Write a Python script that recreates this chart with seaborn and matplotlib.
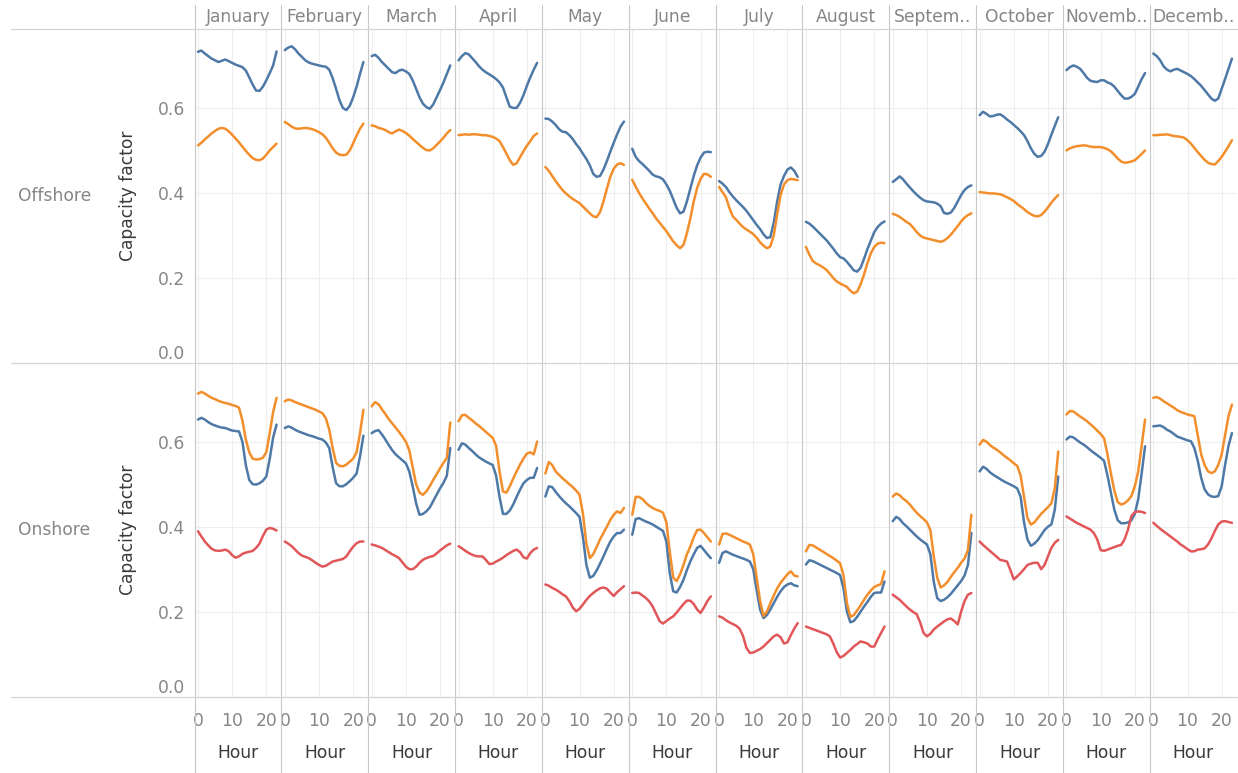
import numpy as np
import pandas as pd
import matplotlib
matplotlib.use("Agg")
import matplotlib.pyplot as plt
import seaborn as sns
from matplotlib.lines import Line2D

sns.set_theme(style="white")
plt.rcParams["font.family"] = ["DejaVu Sans"]

months = ["January", "February", "March", "April", "May", "June", "July",
          "August", "September", "October", "November", "December"]
month_labels = ["January", "February", "March", "April", "May", "June", "July",
                "August", "Septem..", "October", "Novemb..", "Decemb.."]
hours = list(range(24))
locations = ["Offshore", "Onshore"]
series_order = ["Series 1", "Series 2", "Series 3"]
palette = {"Series 1": "#4e79a7", "Series 2": "#f28e2b", "Series 3": "#e15759"}

# capacity factor by month (rows) and hour 0-23 (columns)
offshore_s1 = [
    [.732, .735, .728, .722, .716, .712, .708, .711, .714, .710, .706, .702, .699, .696, .688, .672, .655, .641, .640, .650, .665, .682, .700, .733],
    [.736, .742, .745, .738, .728, .720, .712, .707, .704, .702, .700, .698, .697, .690, .670, .645, .618, .600, .595, .605, .625, .650, .680, .708],
    [.722, .725, .718, .708, .700, .692, .684, .682, .688, .690, .686, .680, .665, .645, .625, .610, .602, .598, .608, .625, .642, .660, .680, .700],
    [.712, .722, .729, .726, .717, .708, .698, .690, .684, .679, .674, .668, .660, .648, .625, .603, .600, .600, .612, .630, .652, .672, .690, .706],
    [.575, .574, .568, .560, .550, .544, .543, .536, .527, .515, .505, .492, .480, .465, .445, .438, .440, .455, .475, .497, .518, .538, .556, .568],
    [.504, .485, .475, .468, .460, .452, .443, .439, .437, .432, .420, .405, .385, .365, .352, .356, .380, .410, .440, .465, .483, .495, .497, .496],
    [.428, .422, .414, .402, .392, .383, .375, .367, .358, .347, .336, .325, .315, .303, .294, .296, .330, .380, .420, .440, .455, .460, .452, .438],
    [.332, .328, .321, .313, .305, .297, .289, .279, .269, .258, .249, .246, .238, .228, .218, .215, .224, .245, .268, .288, .308, .320, .328, .333],
    [.426, .432, .439, .432, .422, .413, .404, .396, .389, .383, .380, .379, .378, .375, .369, .353, .351, .354, .365, .380, .395, .407, .414, .418],
    [.583, .591, .586, .580, .581, .584, .585, .580, .573, .567, .560, .553, .545, .536, .522, .505, .492, .485, .487, .497, .515, .537, .558, .578],
    [.689, .696, .700, .697, .692, .682, .671, .664, .662, .661, .665, .665, .660, .657, .650, .640, .630, .622, .622, .626, .633, .650, .668, .682],
    [.728, .722, .712, .698, .690, .686, .690, .692, .688, .684, .680, .675, .668, .660, .652, .642, .632, .622, .617, .622, .645, .668, .692, .716],
]
offshore_s2 = [
    [.512, .518, .526, .533, .540, .546, .551, .553, .551, .545, .537, .528, .519, .509, .499, .490, .482, .478, .477, .481, .490, .500, .508, .516],
    [.567, .562, .556, .552, .551, .552, .553, .552, .550, .547, .543, .538, .530, .518, .505, .495, .490, .489, .490, .500, .517, .535, .551, .563],
    [.559, .557, .553, .551, .548, .543, .540, .545, .549, .546, .541, .535, .527, .520, .513, .506, .501, .500, .505, .513, .521, .530, .540, .548],
    [.536, .537, .538, .537, .538, .538, .537, .536, .536, .534, .532, .528, .522, .508, .493, .477, .466, .470, .484, .498, .511, .522, .534, .540],
    [.461, .452, .440, .428, .417, .407, .399, .392, .386, .381, .376, .368, .360, .352, .345, .343, .355, .380, .410, .438, .457, .467, .470, .466],
    [.431, .415, .400, .387, .375, .363, .352, .340, .330, .320, .310, .298, .286, .277, .270, .278, .305, .340, .380, .412, .433, .445, .444, .438],
    [.414, .402, .390, .365, .345, .337, .328, .320, .314, .309, .303, .295, .284, .276, .270, .274, .300, .350, .395, .420, .430, .433, .432, .430],
    [.273, .255, .240, .234, .230, .225, .219, .210, .200, .192, .187, .183, .179, .170, .164, .168, .185, .208, .235, .258, .273, .281, .283, .282],
    [.351, .348, .344, .338, .332, .327, .318, .308, .300, .295, .293, .291, .289, .287, .285, .288, .294, .302, .312, .322, .333, .342, .348, .352],
    [.402, .401, .400, .399, .399, .398, .397, .394, .390, .386, .381, .374, .368, .362, .355, .350, .346, .345, .348, .356, .366, .377, .387, .395],
    [.500, .505, .508, .510, .511, .512, .511, .509, .508, .508, .508, .506, .503, .498, .490, .481, .474, .471, .472, .474, .477, .484, .492, .500],
    [.536, .536, .537, .537, .538, .536, .534, .533, .532, .530, .524, .516, .506, .496, .487, .478, .471, .468, .467, .475, .485, .497, .510, .524],
]
onshore_s1 = [
    [.652, .656, .652, .646, .641, .638, .635, .633, .632, .629, .626, .625, .624, .600, .545, .510, .500, .499, .502, .508, .518, .560, .610, .640],
    [.632, .636, .633, .628, .624, .621, .618, .615, .613, .610, .607, .605, .598, .585, .540, .502, .495, .495, .500, .507, .515, .525, .565, .614],
    [.620, .625, .627, .617, .605, .592, .580, .570, .563, .556, .549, .530, .495, .455, .428, .430, .436, .445, .460, .475, .490, .503, .520, .585],
    [.581, .596, .593, .585, .578, .570, .563, .558, .553, .549, .545, .520, .470, .430, .430, .438, .452, .470, .487, .502, .510, .515, .515, .538],
    [.471, .495, .493, .482, .472, .463, .455, .448, .440, .432, .423, .375, .310, .280, .284, .297, .313, .330, .348, .365, .377, .385, .385, .393],
    [.381, .418, .420, .416, .412, .409, .405, .400, .395, .390, .365, .290, .248, .245, .258, .275, .298, .318, .335, .350, .355, .345, .335, .326],
    [.315, .338, .342, .338, .334, .331, .328, .325, .322, .318, .300, .250, .205, .185, .192, .205, .220, .235, .248, .258, .264, .267, .262, .260],
    [.311, .321, .319, .315, .311, .307, .303, .299, .295, .291, .286, .255, .200, .175, .178, .188, .200, .212, .223, .235, .244, .245, .245, .271],
    [.413, .423, .418, .408, .401, .393, .385, .377, .370, .364, .358, .335, .270, .232, .225, .228, .234, .242, .252, .262, .272, .285, .310, .385],
    [.530, .541, .536, .528, .522, .517, .512, .507, .503, .499, .495, .490, .470, .410, .370, .355, .360, .368, .380, .392, .400, .405, .440, .518],
    [.605, .612, .610, .604, .598, .593, .587, .580, .574, .568, .562, .555, .520, .480, .440, .415, .408, .408, .410, .415, .430, .465, .525, .589],
    [.636, .637, .638, .634, .628, .624, .618, .612, .609, .606, .603, .601, .585, .555, .515, .488, .476, .471, .470, .472, .495, .545, .590, .620],
]
onshore_s2 = [
    [.713, .717, .713, .708, .703, .700, .696, .693, .691, .689, .686, .684, .680, .650, .605, .575, .560, .558, .559, .562, .575, .620, .670, .703],
    [.695, .699, .697, .693, .690, .687, .684, .681, .678, .675, .671, .667, .655, .628, .585, .550, .543, .542, .546, .553, .560, .575, .620, .675],
    [.683, .693, .688, .676, .665, .653, .643, .633, .623, .612, .600, .580, .540, .500, .480, .475, .483, .495, .510, .523, .537, .550, .562, .645],
    [.648, .662, .663, .656, .650, .643, .637, .630, .623, .616, .609, .590, .530, .483, .480, .495, .513, .530, .546, .560, .572, .575, .570, .600],
    [.525, .552, .545, .530, .522, .514, .507, .500, .493, .485, .475, .430, .360, .326, .335, .352, .370, .385, .400, .416, .428, .436, .432, .444],
    [.428, .470, .470, .465, .456, .449, .444, .440, .437, .433, .410, .340, .280, .272, .288, .310, .335, .353, .375, .392, .393, .385, .375, .365],
    [.358, .383, .384, .381, .377, .373, .369, .365, .362, .358, .335, .280, .225, .190, .200, .220, .238, .255, .268, .278, .288, .295, .285, .283],
    [.342, .357, .356, .351, .346, .341, .336, .331, .326, .320, .314, .285, .220, .188, .192, .203, .215, .228, .240, .250, .258, .262, .265, .295],
    [.471, .478, .474, .466, .460, .452, .442, .433, .425, .418, .410, .392, .330, .280, .257, .262, .270, .282, .293, .303, .315, .325, .345, .428],
    [.593, .604, .600, .592, .586, .581, .575, .568, .562, .556, .549, .543, .520, .470, .420, .405, .410, .420, .430, .438, .446, .455, .490, .577],
    [.664, .672, .671, .665, .659, .654, .648, .641, .634, .626, .618, .608, .570, .525, .485, .458, .452, .455, .462, .472, .495, .530, .590, .652],
    [.703, .705, .701, .695, .690, .685, .680, .674, .670, .667, .664, .662, .660, .615, .570, .545, .530, .526, .530, .545, .570, .615, .660, .687],
]
onshore_s3 = [
    [.389, .377, .365, .356, .348, .344, .343, .344, .346, .342, .333, .327, .330, .336, .339, .341, .343, .350, .360, .378, .393, .397, .395, .391],
    [.365, .360, .354, .346, .338, .332, .329, .326, .321, .315, .310, .306, .308, .313, .318, .320, .322, .324, .330, .342, .353, .361, .365, .365],
    [.358, .356, .353, .350, .345, .340, .335, .331, .326, .316, .306, .300, .300, .306, .315, .322, .326, .329, .331, .337, .344, .350, .356, .360],
    [.354, .349, .343, .338, .334, .331, .330, .330, .322, .312, .313, .318, .322, .327, .333, .338, .343, .346, .340, .328, .325, .338, .346, .350],
    [.264, .261, .256, .252, .247, .241, .236, .225, .210, .201, .207, .217, .228, .237, .244, .250, .255, .257, .254, .245, .237, .246, .253, .260],
    [.244, .245, .244, .238, .232, .224, .212, .195, .178, .172, .178, .184, .189, .198, .208, .218, .226, .226, .218, .205, .197, .210, .225, .236],
    [.189, .186, .180, .175, .171, .167, .160, .143, .115, .103, .104, .108, .112, .118, .126, .134, .142, .146, .140, .125, .128, .145, .160, .173],
    [.165, .162, .159, .156, .153, .150, .147, .142, .125, .105, .092, .096, .103, .110, .118, .124, .130, .128, .125, .118, .118, .135, .150, .165],
    [.240, .234, .228, .220, .212, .205, .199, .194, .175, .150, .142, .148, .158, .165, .171, .177, .182, .184, .178, .170, .200, .225, .240, .244],
    [.365, .357, .350, .343, .336, .329, .322, .320, .318, .298, .276, .283, .291, .300, .310, .313, .315, .315, .300, .310, .330, .350, .362, .369],
    [.424, .419, .414, .409, .405, .401, .397, .393, .385, .370, .345, .343, .346, .349, .352, .355, .357, .370, .393, .425, .434, .436, .435, .432],
    [.409, .402, .395, .389, .383, .377, .371, .365, .358, .353, .347, .342, .342, .346, .347, .349, .358, .372, .390, .405, .412, .413, .411, .409],
]

# long-form table
rows = []
for loc, series in [("Offshore", {"Series 1": offshore_s1, "Series 2": offshore_s2}),
                    ("Onshore", {"Series 1": onshore_s1, "Series 2": onshore_s2, "Series 3": onshore_s3})]:
    for name, table in series.items():
        for m, vals in zip(months, table):
            for h, v in zip(hours, vals):
                rows.append((loc, m, name, h, v))
df = pd.DataFrame(rows, columns=["Location", "Month", "Series", "Hour", "Capacity factor"])

# layout in pixels
W, H = 1238, 773
left0, col_w = 194.5, 86.85
row_tops = [29.3, 363.0]
row_h = 333.7
grey_txt = "#868686"
dark_txt = "#3a3a3a"
fs = 12.3


def rect(x, y, w, h):
    return [x / W, 1 - (y + h) / H, w / W, h / H]


fig = plt.figure(figsize=(W / 100, H / 100), dpi=100)

for r, loc in enumerate(locations):
    for c, m in enumerate(months):
        ax = fig.add_axes(rect(left0 + c * col_w, row_tops[r], col_w, row_h))
        sub = df[(df["Location"] == loc) & (df["Month"] == m)]
        sns.lineplot(data=sub, x="Hour", y="Capacity factor", hue="Series",
                     hue_order=[s for s in series_order if s in sub["Series"].unique()],
                     palette=palette, legend=False, linewidth=1.8, ax=ax)
        ax.set_xlim(-1.02, 24.4)
        ax.set_ylim(0, 0.785)
        ax.set_xticks([0, 10, 20])
        ax.set_yticks([0, 0.2, 0.4, 0.6])
        ax.grid(True, color="#eeeeee", linewidth=0.8)
        ax.set_axisbelow(True)
        for sp in ax.spines.values():
            sp.set_visible(False)
        ax.tick_params(length=0, colors=grey_txt, labelsize=fs)
        ax.tick_params(axis="y", pad=7)
        ax.tick_params(axis="x", pad=11)

        if c == 0:
            ax.set_yticklabels(["0.0", "0.2", "0.4", "0.6"])
            ax.get_yticklabels()[0].set_verticalalignment("bottom")
            ax.set_ylabel("Capacity factor", color=dark_txt, fontsize=fs, va="center")
            ax.yaxis.set_label_coords((128 - left0) / col_w, 0.5)
        else:
            ax.set_yticklabels([])
            ax.set_ylabel("")

        if r == 0:
            ax.set_xticklabels([])
            ax.set_xlabel("")
            ax.text(0.5, 1 + (29.3 - 17) / row_h, month_labels[c], transform=ax.transAxes,
                    ha="center", va="center", color=grey_txt, fontsize=fs)
        else:
            ax.set_xlabel("Hour", color=dark_txt, fontsize=fs, va="center")
            ax.xaxis.set_label_coords(0.5, -(753 - 697) / row_h)

    fig.text(18 / W, 1 - (row_tops[r] + row_h / 2) / H, loc, ha="left", va="center",
             color=grey_txt, fontsize=fs)

# Tableau-like pane separators
for c in range(12):
    x = (left0 + c * col_w) / W
    fig.add_artist(Line2D([x, x], [1 - 5 / H, 0], transform=fig.transFigure,
                          color="#c8c8c8", linewidth=0.8))
for y in [29.3, 362.9, 697.0]:
    fig.add_artist(Line2D([11 / W, 1], [1 - y / H, 1 - y / H], transform=fig.transFigure,
                          color="#d4d4d4", linewidth=0.9))

fig.savefig("out.png", dpi=100, facecolor="white")
